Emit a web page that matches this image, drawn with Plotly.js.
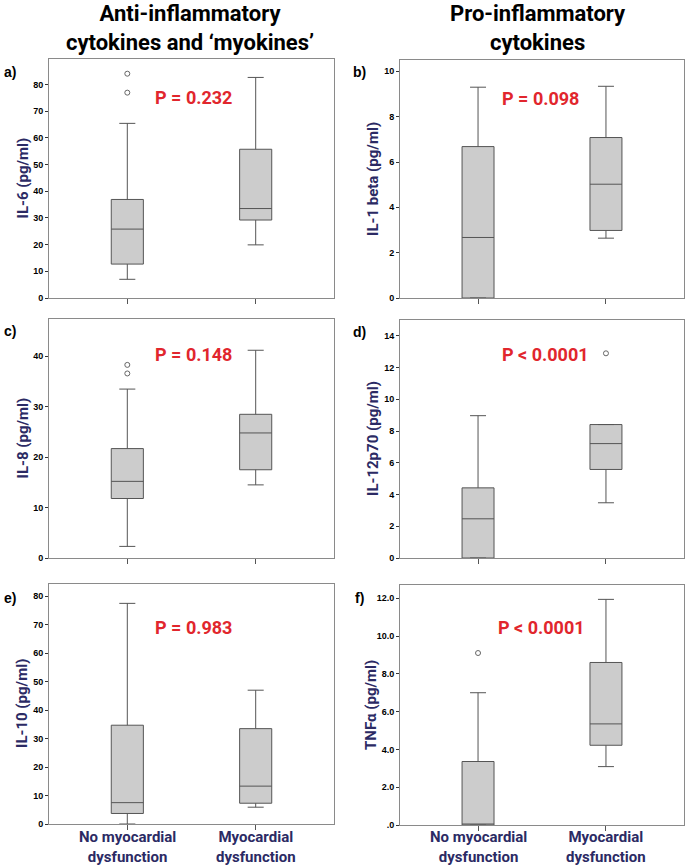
<!DOCTYPE html>
<html>
<head>
<meta charset="utf-8">
<script src="https://cdn.plot.ly/plotly-3.0.1.min.js"></script>
<style>
  body { margin: 0; background: #fff; }
  #chart { width: 686px; height: 865px; }
</style>
</head>
<body>
<div id="chart"></div>
<script>
// groups on the x axis
let groups = ['No myocardial dysfunction', 'Myocardial dysfunction'];
let groupLabels = ['No myocardial<br>dysfunction', 'Myocardial<br>dysfunction'];

// box stats per group: [lower whisker, Q1, median, Q3, upper whisker]
let il6    = [[7.0, 12.7, 25.8, 36.9, 65.4], [19.9, 29.2, 33.5, 55.7, 82.6]];
let il1b   = [[0, 0, 2.67, 6.68, 9.30], [2.64, 2.98, 5.02, 7.08, 9.34]];
let il8    = [[2.3, 11.8, 15.2, 21.7, 33.5], [14.5, 17.5, 24.8, 28.5, 41.2]];
let il12   = [[0, 0, 2.47, 4.42, 8.97], [3.48, 5.58, 7.21, 8.41, 8.41]];
let il10   = [[0, 3.7, 7.5, 34.7, 77.5], [5.9, 7.3, 13.3, 33.5, 47.0]];
let tnfa   = [[0, 0, 0, 3.36, 7.0], [3.09, 4.22, 5.35, 8.6, 11.94]];

// outliers: [group, value]
let il6Out  = [[groups[0], 84.0], [groups[0], 76.9]];
let il1bOut = [];
let il8Out  = [[groups[0], 38.3], [groups[0], 36.6]];
let il12Out = [[groups[1], 12.9]];
let il10Out = [];
let tnfaOut = [[groups[0], 9.1]];

let pValues = ['P = 0.232', 'P = 0.098', 'P = 0.148', 'P < 0.0001', 'P = 0.983', 'P < 0.0001'];
let yTitles = ['IL-6 (pg/ml)', 'IL-1 beta (pg/ml)', 'IL-8 (pg/ml)', 'IL-12p70 (pg/ml)', 'IL-10 (pg/ml)', 'TNF\u03b1 (pg/ml)'];
let letters = ['a)', 'b)', 'c)', 'd)', 'e)', 'f)'];
let yTickVals = [[0,10,20,30,40,50,60,70,80], [0,2,4,6,8,10], [0,10,20,30,40], [0,2,4,6,8,10,12,14], [0,10,20,30,40,50,60,70,80], [0,2,4,6,8,10,12]];
let tnfaTickText = ['.0', '2.0', '4.0', '6.0', '8.0', '10.0', '12.0'];

let stats = [il6, il1b, il8, il12, il10, tnfa];
let outs = [il6Out, il1bOut, il8Out, il12Out, il10Out, tnfaOut];

// panel pixel boxes [left, right, top, bottom] and y ranges
let W = 686, H = 865;
let panels = [
  [49, 334, 59, 298], [400, 684, 60, 298],
  [49, 334, 319, 558], [400, 684, 320, 558],
  [49, 334, 584, 824], [400, 684, 585, 825]
];
let yMax = [89.5, 10.5, 47.4, 15.0, 84.3, 12.7];
let pPos = [[193, 97], [540, 98], [193, 355], [545, 355], [193, 627], [541, 627]];
let titleX = [22, 373, 22, 373, 22, 371];
let letterPos = [[10, 72], [360, 72], [10, 331], [360, 332], [10, 598], [360, 598]];

let navy = '#2b2a64';
let red = '#e1262d';
let traces = [];
let layout = {
  width: W, height: H,
  margin: {l: 0, r: 0, t: 0, b: 0},
  paper_bgcolor: '#fff', plot_bgcolor: '#fff',
  showlegend: false,
  annotations: []
};

function note(x, y, text, font, extra) {
  let a = {xref: 'paper', yref: 'paper', x: x / W, y: 1 - y / H,
           xanchor: 'center', yanchor: 'middle', text: text, showarrow: false, font: font};
  return Object.assign(a, extra || {});
}

for (let i = 0; i < 6; i++) {
  let n = i === 0 ? '' : String(i + 1);
  let xa = 'x' + n, ya = 'y' + n;
  let s = stats[i];
  traces.push({
    type: 'box',
    x: groups,
    lowerfence: s.map(r => r[0]),
    q1: s.map(r => r[1]),
    median: s.map(r => r[2]),
    q3: s.map(r => r[3]),
    upperfence: s.map(r => r[4]),
    width: 0.25,
    whiskerwidth: 0.5,
    fillcolor: '#cccccc',
    line: {color: '#555555', width: 1},
    xaxis: xa, yaxis: ya,
    hoverinfo: 'skip'
  });
  if (outs[i].length) {
    traces.push({
      type: 'scatter', mode: 'markers',
      x: outs[i].map(o => o[0]),
      y: outs[i].map(o => o[1]),
      marker: {symbol: 'circle-open', size: 5, color: '#666', line: {width: 1}},
      xaxis: xa, yaxis: ya
    });
  }
  let p = panels[i];
  layout['xaxis' + n] = {
    domain: [p[0] / W, p[1] / W],
    anchor: ya,
    type: 'category',
    categoryorder: 'array', categoryarray: groups,
    range: [-0.61, 1.61],
    showline: true, mirror: true, linecolor: '#8a8a8a', linewidth: 1,
    showgrid: false, zeroline: false,
    ticks: 'outside', ticklen: 5, tickcolor: '#555', tickwidth: 1,
    tickvals: groups,
    showticklabels: false
  };
  let yaxis = {
    domain: [1 - p[3] / H, 1 - p[2] / H],
    anchor: xa,
    range: [0, yMax[i]],
    showline: true, mirror: true, linecolor: '#8a8a8a', linewidth: 1,
    showgrid: false, zeroline: false,
    ticks: 'outside', ticklen: 3, tickcolor: '#333', tickwidth: 1,
    tickvals: yTickVals[i],
    tickfont: {family: 'Liberation Sans, Arial, sans-serif', size: 9, color: '#000', weight: 'bold'}
  };
  if (i === 5) yaxis.ticktext = tnfaTickText;
  layout['yaxis' + n] = yaxis;

  layout.annotations.push(note(pPos[i][0], pPos[i][1], pValues[i],
    {family: 'Roboto, sans-serif', size: 18, color: red, weight: 'bold'}));
  layout.annotations.push(note(titleX[i], (p[2] + p[3]) / 2, yTitles[i],
    {family: 'Roboto, sans-serif', size: 15, color: navy, weight: 'bold'}, {textangle: -90}));
  layout.annotations.push(note(letterPos[i][0], letterPos[i][1], letters[i],
    {family: 'Liberation Sans, Arial, sans-serif', size: 14, color: '#000', weight: 'bold'}));

  // category labels under the bottom row, placed on the category axis
  if (i >= 4) {
    for (let j = 0; j < groups.length; j++) {
      layout.annotations.push({xref: xa, yref: 'paper', x: groups[j], y: 1 - 847 / H,
        xanchor: 'center', yanchor: 'middle', text: groupLabels[j], showarrow: false,
        font: {family: 'Roboto, sans-serif', size: 15, color: navy, weight: 'bold'}});
    }
  }
}

let hf = {family: 'Roboto, sans-serif', size: 22, color: '#000', weight: 'bold'};
layout.annotations.push(note(190, 28, 'Anti-inflammatory<br>cytokines and \u2018myokines\u2019', hf));
layout.annotations.push(note(538, 28, 'Pro-inflammatory<br>cytokines', hf));

Plotly.newPlot('chart', traces, layout, {displayModeBar: false, staticPlot: true});
</script>
</body>
</html>
